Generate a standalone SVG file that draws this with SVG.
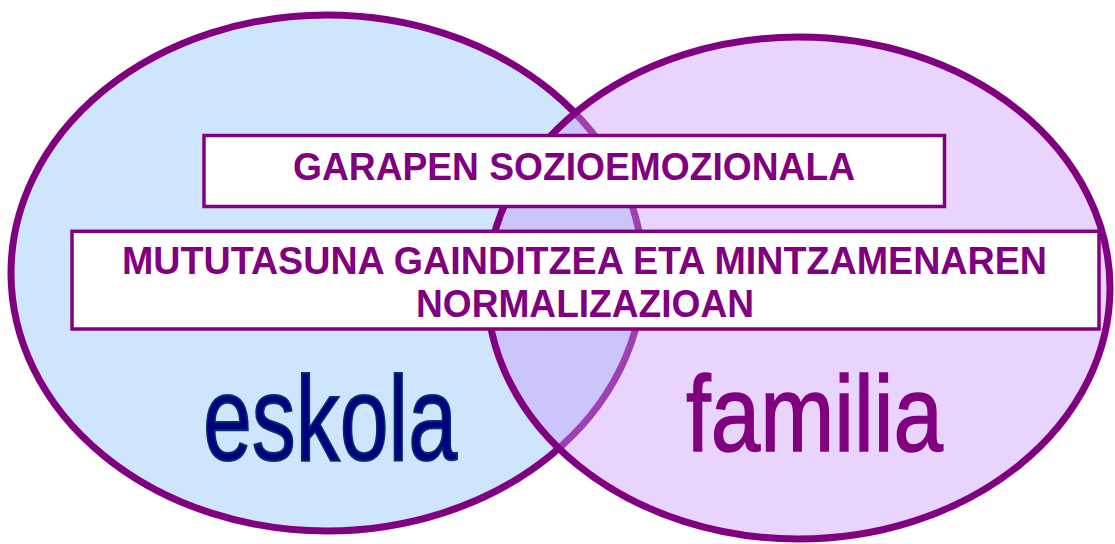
<svg xmlns="http://www.w3.org/2000/svg" width="1115" height="544" viewBox="0 0 1115 544">
  <style>
    .ring { stroke: #800080; stroke-width: 7; }
    .box { fill: #ffffff; stroke: #800080; stroke-width: 3.5; }
    .lbl { font-family: "Liberation Sans", Arial, sans-serif; font-weight: bold; font-size: 38px; fill: #800080; text-anchor: middle; }
    .big { font-family: "Liberation Sans", Arial, sans-serif; }
  </style>
  <rect width="1115" height="544" fill="#ffffff"/>
  <g id="eskola">
    <ellipse class="ring" cx="327" cy="273" rx="316" ry="258" fill="#cfe5fe"/>
  </g>
  <g id="familia">
    <ellipse cx="798.5" cy="288" rx="311.5" ry="251" fill="#c898f8" fill-opacity="0.42" stroke="none"/>
    <ellipse class="ring" cx="798.5" cy="288" rx="311.5" ry="251" fill="none"/>
  </g>
  <g id="connectors"></g>
  <g id="garapen">
    <rect class="box" x="204" y="135.5" width="740.5" height="71"/>
    <text class="lbl" x="574" y="180" textLength="562" lengthAdjust="spacingAndGlyphs">GARAPEN SOZIOEMOZIONALA</text>
  </g>
  <g id="mututasuna">
    <rect class="box" x="72" y="231.3" width="1027" height="97.7"/>
    <text class="lbl" x="584.5" y="274" textLength="925" lengthAdjust="spacingAndGlyphs">MUTUTASUNA GAINDITZEA ETA MINTZAMENAREN</text>
    <text class="lbl" x="585" y="317" textLength="338" lengthAdjust="spacingAndGlyphs">NORMALIZAZIOAN</text>
  </g>
  <g id="eskola-label">
    <text class="big" x="203" y="460" font-size="121" textLength="254" lengthAdjust="spacingAndGlyphs" fill="#000080" stroke="#003366" stroke-width="2">eskola</text>
  </g>
  <g id="familia-label">
    <text class="big" x="686" y="451" font-size="108" textLength="257" lengthAdjust="spacingAndGlyphs" fill="#800080" stroke="#800080" stroke-width="1.5">familia</text>
  </g>
</svg>
